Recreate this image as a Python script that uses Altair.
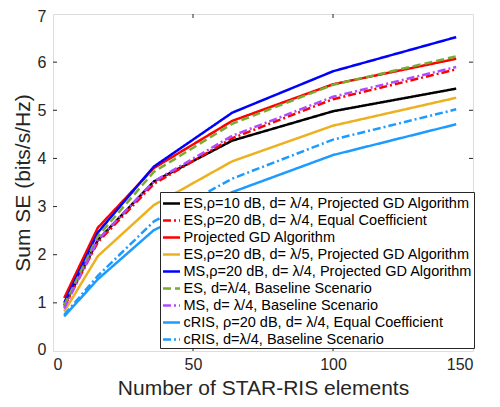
import altair as alt
import pandas as pd

x_vals = [4, 16, 36, 64, 100, 144]

series_names = [
    "ES,ρ=10 dB, d= λ/4, Projected GD Algorithm",
    "ES,ρ=20 dB, d= λ/4, Equal Coefficient",
    "Projected GD Algorithm",
    "ES,ρ=20 dB, d= λ/5, Projected GD Algorithm",
    "MS,ρ=20 dB, d= λ/4, Projected GD Algorithm",
    "ES, d=λ/4, Baseline Scenario",
    "MS, d= λ/4, Baseline Scenario",
    "cRIS, ρ=20 dB, d= λ/4, Equal Coefficient",
    "cRIS, d=λ/4, Baseline Scenario",
]

es10_pgd = [0.95, 2.30, 3.52, 4.37, 4.98, 5.45]
es20_ec = [0.92, 2.26, 3.47, 4.42, 5.23, 5.85]
pgd = [1.10, 2.56, 3.80, 4.78, 5.54, 6.07]
es20_l5 = [0.82, 1.97, 3.03, 3.94, 4.68, 5.26]
ms20_pgd = [1.00, 2.46, 3.83, 4.95, 5.81, 6.52]
es_base = [0.95, 2.38, 3.72, 4.72, 5.53, 6.12]
ms_base = [0.88, 2.31, 3.52, 4.47, 5.28, 5.90]
cris_ec = [0.72, 1.49, 2.51, 3.30, 4.07, 4.71]
cris_base = [0.75, 1.56, 2.69, 3.58, 4.39, 5.02]

all_series = [es10_pgd, es20_ec, pgd, es20_l5, ms20_pgd, es_base, ms_base, cris_ec, cris_base]

colors = ["#000000", "#FF0000", "#FF0000", "#EDB120", "#0000FF",
          "#77AC30", "#B04CFF", "#1E9BFF", "#1E9BFF"]
dashes = [[1, 0], [8, 3, 2, 3], [1, 0], [1, 0], [1, 0],
          [8, 4], [8, 3, 2, 3], [1, 0], [8, 3, 2, 3]]

x_ticks = [50, 100]
y_ticks = [1, 2, 3, 4, 5, 6]

rows = []
for i, (name, vals) in enumerate(zip(series_names, all_series)):
    for xv, yv in zip(x_vals, vals):
        rows.append({"series": name, "order": i, "N": xv, "SE": yv})
df = pd.DataFrame(rows)

font = "Liberation Sans"
W, H = 420, 337
xscale = alt.Scale(domain=[0, 150], nice=False, zero=False)
yscale = alt.Scale(domain=[0, 7], nice=False)

legend = alt.Legend(title=None, orient="none", legendX=107, legendY=178,
                    symbolType="stroke", symbolSize=289,
                    symbolStrokeWidth=2.5, labelFontSize=14.5,
                    labelFont=font, labelColor="#000000",
                    labelLimit=400, labelOffset=2, padding=1.5,
                    rowPadding=0, strokeColor="#262626",
                    fillColor="#FFFFFF")

lines = alt.Chart(df).mark_line(strokeWidth=2.5, clip=True).encode(
    x=alt.X("N:Q", scale=xscale,
            axis=alt.Axis(title="Number of STAR-RIS elements", values=[0, 50, 100, 150],
                          ticks=False, grid=False, domain=False, labelPadding=5,
                          titlePadding=5, labelFontSize=16, titleFontSize=21,
                          labelFont=font, titleFont=font, labelColor="#262626",
                          titleColor="#262626", titleFontWeight="normal")),
    y=alt.Y("SE:Q", scale=yscale,
            axis=alt.Axis(title="Sum SE (bits/s/Hz)", values=list(range(8)),
                          ticks=False, grid=False, domain=False, labelPadding=7,
                          titlePadding=4, labelFontSize=16, titleFontSize=21,
                          labelFlush=True, labelFlushOffset=6,
                          labelFont=font, titleFont=font, labelColor="#262626",
                          titleColor="#262626", titleFontWeight="normal")),
    color=alt.Color("series:N", scale=alt.Scale(domain=series_names, range=colors),
                    legend=legend),
    strokeDash=alt.StrokeDash("series:N", scale=alt.Scale(domain=series_names, range=dashes),
                              legend=legend),
    detail="order:O",
)

tx = pd.DataFrame({"t": x_ticks})
ty = pd.DataFrame({"t": y_ticks})
tick_color = "#262626"
bottom_ticks = alt.Chart(tx).mark_rule(color=tick_color).encode(
    x=alt.X("t:Q", scale=xscale), y=alt.value(H), y2=alt.value(H - 4))
top_ticks = alt.Chart(tx).mark_rule(color=tick_color).encode(
    x=alt.X("t:Q", scale=xscale), y=alt.value(0), y2=alt.value(4))
left_ticks = alt.Chart(ty).mark_rule(color=tick_color).encode(
    y=alt.Y("t:Q", scale=yscale), x=alt.value(0), x2=alt.value(4))
right_ticks = alt.Chart(ty).mark_rule(color=tick_color).encode(
    y=alt.Y("t:Q", scale=yscale), x=alt.value(W), x2=alt.value(W - 4))

chart = alt.layer(bottom_ticks, top_ticks, left_ticks, right_ticks, lines).properties(
    width=W, height=H,
    autosize=alt.AutoSizeParams(type="none"),
    padding={"left": 45, "top": 6, "right": 19, "bottom": 48},
).configure_view(stroke="#262626", strokeWidth=1).configure(background="white")

chart.save("out.html", embed_options={"renderer": "svg", "actions": False})
